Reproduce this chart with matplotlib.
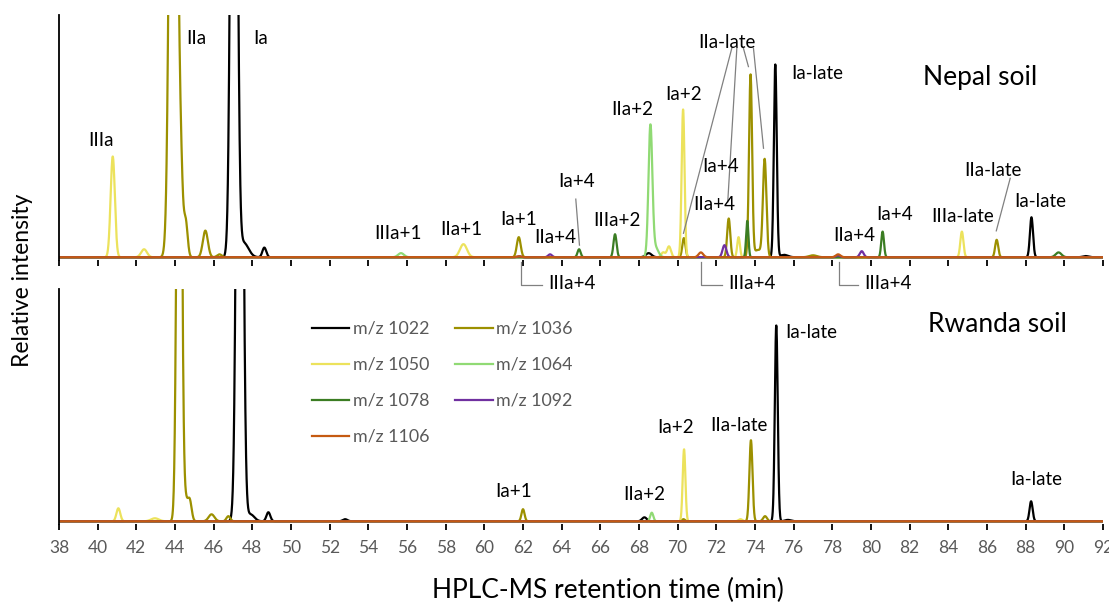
import numpy as np
import matplotlib.pyplot as plt

plt.rcParams['font.family'] = ['Lato', 'DejaVu Sans']

series = ['m/z 1022', 'm/z 1036', 'm/z 1050', 'm/z 1064', 'm/z 1078', 'm/z 1092', 'm/z 1106']
colors = ['#000000', '#9c9000', '#ece25c', '#90da74', '#3b7d23', '#7030a0', '#c55a11']

# peaks: (retention time, relative height, width)
nepal_1022 = [(47.05, 4.0, 0.14), (47.55, 0.06, 0.25), (48.62, 0.04, 0.1), (68.5, 0.017, 0.15),
              (75.05, 0.795, 0.075), (75.5, 0.01, 0.2), (88.3, 0.165, 0.08), (91.1, 0.005, 0.15)]
nepal_1036 = [(43.92, 4.0, 0.165), (44.3, 0.3, 0.1), (44.55, 0.15, 0.1), (45.57, 0.11, 0.13),
              (46.3, 0.012, 0.12), (61.78, 0.083, 0.1), (70.32, 0.079, 0.08), (72.64, 0.16, 0.08),
              (73.77, 0.75, 0.08), (74.15, 0.03, 0.2), (74.5, 0.40, 0.09), (77.0, 0.008, 0.2),
              (86.5, 0.072, 0.08)]
nepal_1050 = [(40.78, 0.416, 0.11), (42.4, 0.033, 0.15), (58.92, 0.054, 0.18), (69.25, 0.02, 0.1),
              (69.55, 0.045, 0.1), (70.28, 0.61, 0.075), (73.15, 0.083, 0.07), (84.7, 0.106, 0.08)]
nepal_1064 = [(55.69, 0.017, 0.15), (68.59, 0.54, 0.1), (68.85, 0.04, 0.15)]
nepal_1078 = [(64.9, 0.033, 0.08), (66.76, 0.095, 0.08), (73.6, 0.15, 0.06),
              (80.6, 0.106, 0.07), (89.7, 0.02, 0.15)]
nepal_1092 = [(61.8, 0.004, 0.1), (63.4, 0.012, 0.1), (72.42, 0.05, 0.1), (78.3, 0.008, 0.1),
              (79.52, 0.025, 0.1)]
nepal_1106 = [(61.8, 0.004, 0.12), (71.2, 0.02, 0.12), (78.3, 0.012, 0.12)]

rwanda_1022 = [(47.35, 4.0, 0.14), (47.9, 0.03, 0.2), (48.83, 0.039, 0.1), (52.8, 0.009, 0.12),
               (68.28, 0.017, 0.12), (75.1, 0.844, 0.075), (75.7, 0.006, 0.15), (88.28, 0.086, 0.08)]
rwanda_1036 = [(44.22, 3.0, 0.115), (44.55, 0.08, 0.1), (44.76, 0.09, 0.1), (45.89, 0.03, 0.15),
               (46.76, 0.022, 0.1), (62.0, 0.052, 0.08), (70.3, 0.009, 0.08), (73.79, 0.349, 0.08),
               (74.52, 0.022, 0.1)]
rwanda_1050 = [(41.07, 0.056, 0.1), (42.96, 0.013, 0.2), (70.33, 0.31, 0.07), (73.25, 0.009, 0.1)]
rwanda_1064 = [(68.66, 0.037, 0.08)]
rwanda_1078 = []
rwanda_1092 = []
rwanda_1106 = []

nepal = [nepal_1022, nepal_1036, nepal_1050, nepal_1064, nepal_1078, nepal_1092, nepal_1106]
rwanda = [rwanda_1022, rwanda_1036, rwanda_1050, rwanda_1064, rwanda_1078, rwanda_1092, rwanda_1106]

t = np.linspace(38, 92, 6000)


def trace(peaks):
    y = np.zeros_like(t)
    for rt, h, w in peaks:
        y += h * np.exp(-0.5 * ((t - rt) / w) ** 2)
    return y


fig = plt.figure(figsize=(11.09, 6.08), dpi=100)
ax1 = fig.add_axes([0.0532, 0.5729, 0.9414, 0.4024])
ax2 = fig.add_axes([0.0532, 0.1388, 0.9414, 0.3859])

for ax, panel in [(ax1, nepal), (ax2, rwanda)]:
    for peaks, name, c in zip(panel, series, colors):
        ax.plot(t, trace(peaks), color=c, lw=1.6, label=name)
    ax.set_xlim(38, 92)
    ax.set_ylim(-0.01, 1)
    ax.set_xticks(np.arange(38, 93, 2))
    ax.set_yticks([])
    for s in ['top', 'right', 'bottom']:
        ax.spines[s].set_visible(False)
    ax.spines['left'].set_linewidth(1.3)
    ax.tick_params(axis='x', direction='out', length=4, width=1.3, color='black',
                   labelsize=12.5, labelcolor='#595959', pad=8)
ax1.tick_params(axis='x', labelbottom=False)

lab = dict(fontsize=13.5, ha='center', va='center')
# Nepal labels
for txt, x, y in [('IIIa', 40.17, 0.484), ('IIa', 45.09, 0.905), ('Ia', 48.45, 0.905),
                  ('IIIa+1', 55.54, 0.10), ('IIa+1', 58.83, 0.116), ('Ia+1', 61.76, 0.154),
                  ('IIa+4', 63.66, 0.08), ('Ia+4', 64.78, 0.312), ('IIIa+2', 66.88, 0.15),
                  ('IIa+2', 67.63, 0.608), ('Ia+2', 70.33, 0.67), ('IIa-late', 72.54, 0.886),
                  ('Ia+4', 72.2, 0.374), ('IIa+4', 71.9, 0.216), ('Ia-late', 77.21, 0.76),
                  ('IIa+4', 79.13, 0.088), ('Ia+4', 81.21, 0.175), ('IIIa-late', 84.75, 0.168),
                  ('IIa-late', 86.33, 0.36), ('Ia-late', 88.75, 0.23)]:
    ax1.text(x, y, txt, **lab)
ax1.text(85.65, 0.74, 'Nepal soil', fontsize=19, ha='center', va='center')

lead = dict(color='#808080', lw=0.9, clip_on=False)
for (x0, y0), (x1, y1) in [((64.73, 0.24), (64.92, 0.05)),
                           ((72.8, 0.863), (70.3, 0.099)), ((73.06, 0.863), (72.59, 0.228)),
                           ((73.4, 0.863), (73.66, 0.787)), ((73.92, 0.863), (74.44, 0.45)),
                           ((87.2, 0.326), (86.48, 0.109))]:
    ax1.plot([x0, x1], [y0, y1], **lead)
for x0, x1 in [(61.92, 62.98), (71.21, 72.28), (78.32, 79.32)]:
    ax1.plot([x0, x0, x1], [-0.02, -0.115, -0.115], **lead)
    ax1.text(x1 + 0.35, -0.11, 'IIIa+4', fontsize=13.5, ha='left', va='center')

# Rwanda labels
for txt, x, y in [('Ia+1', 61.54, 0.13), ('IIa+2', 68.29, 0.114), ('Ia+2', 69.87, 0.405),
                  ('IIa-late', 73.16, 0.412), ('Ia-late', 76.91, 0.814), ('Ia-late', 88.56, 0.178)]:
    ax2.text(x, y, txt, **lab)
ax2.text(86.53, 0.845, 'Rwanda soil', fontsize=19, ha='center', va='center')

# legend filled row by row, like the original
h, l = ax2.get_legend_handles_labels()
order = [0, 2, 4, 6, 1, 3, 5]
ax2.legend([h[i] for i in order], [l[i] for i in order], ncol=2, loc='upper left',
           bbox_to_anchor=(312 / 1109, 1 - 321 / 608), bbox_transform=fig.transFigure,
           frameon=False, fontsize=12.8, labelcolor='#595959',
           handlelength=2.1, handletextpad=0.2, columnspacing=1.45, labelspacing=1.12,
           borderpad=0, borderaxespad=0)

fig.text(23 / 1109, 1 - 280 / 608, 'Relative intensity', rotation=90, fontsize=16.5,
         ha='center', va='center')
fig.text(608 / 1109, 1 - 590 / 608, 'HPLC-MS retention time (min)', fontsize=19,
         ha='center', va='center')

fig.savefig('out.png', dpi=100)
